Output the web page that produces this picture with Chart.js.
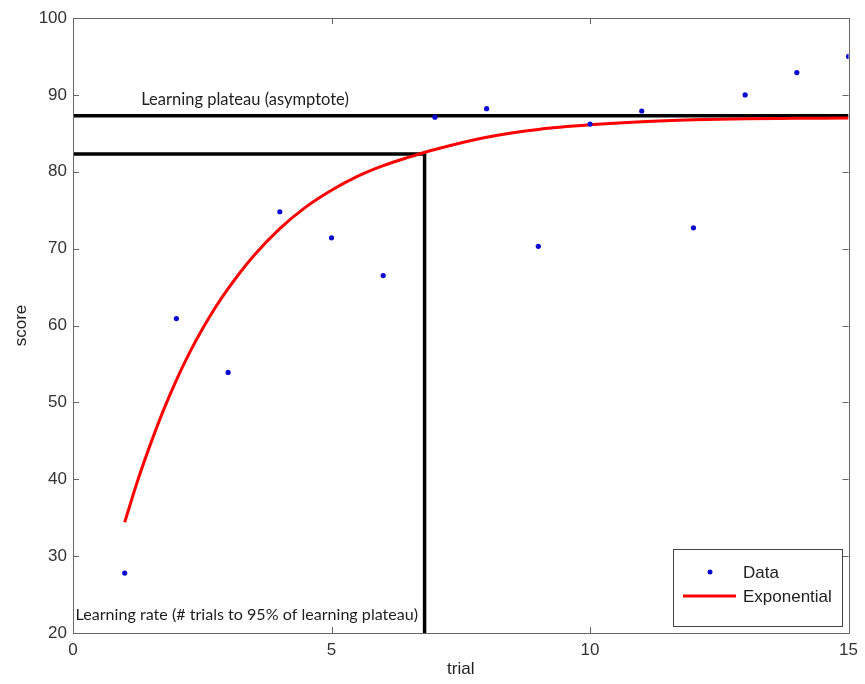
<!DOCTYPE html>
<html><head><meta charset="utf-8">
<script src="https://cdn.jsdelivr.net/npm/chart.js@4"></script>
<style>html,body{margin:0;padding:0;background:#fff}#wrap{width:865px;height:684px;position:relative}</style>
</head><body><div id="wrap"><canvas id="c" width="865" height="684"></canvas></div>
<script>
// ---- data ----
const trials = [1,2,3,4,5,6,7,8,9,10,11,12,13,14,15];
const scores = [27.8,60.9,53.9,74.8,71.4,66.5,87.1,88.2,70.3,86.2,87.9,72.7,90.0,92.9,95.0];
const curveTrials = [1,1.25,1.5,1.75,2,2.25,2.5,2.75,3,3.5,4,4.5,5,5.5,6,6.5,7,8,9,10,11,12,13,14,15];
const curveScores = [34.4,39.8,44.6,49.0,52.9,56.4,59.5,62.3,64.8,69.1,72.6,75.4,77.6,79.4,80.8,81.9,82.9,84.5,85.5,86.1,86.5,86.75,86.9,86.95,87.0];
const plateauScore = 87.3;
const rateScore = 82.3;
const rateTrial = 6.8;
const xTickValues = [0,5,10,15];
const yTickValues = [20,30,40,50,60,70,80,90,100];
const seriesLabels = ['Data','Exponential'];
const plateauText = 'Learning plateau (asymptote)';
const rateText = 'Learning rate (# trials to 95% of learning plateau)';

const ARIAL = "'Liberation Sans', Arial, sans-serif";
const NOTE_FONT = "Lato, 'Open Sans', sans-serif";

const pts = (xs, ys) => xs.map((x,i)=>({x, y: ys[i]}));

const boxPlugin = {
  id:'matlabBox',
  afterDatasetsDraw(chart){
    const {ctx, chartArea:a, scales:{x, y}} = chart;
    ctx.save();
    // annotations text
    ctx.fillStyle = '#1e1e1e';
    ctx.textBaseline = 'middle';
    ctx.textAlign = 'left';
    ctx.font = "16.5px " + NOTE_FONT;
    ctx.fillText(plateauText, x.getPixelForValue(1.32), y.getPixelForValue(89.4));
    ctx.font = "16.1px " + NOTE_FONT;
    ctx.fillText(rateText, x.getPixelForValue(0.05), y.getPixelForValue(22.4));
    // box
    ctx.strokeStyle = '#666';
    ctx.lineWidth = 1;
    ctx.strokeRect(Math.round(a.left)+0.5, Math.round(a.top)+0.5, Math.round(a.right-a.left), Math.round(a.bottom-a.top));
    // inward ticks
    const tl = 6;
    ctx.beginPath();
    xTickValues.forEach(v=>{
      const px = Math.round(x.getPixelForValue(v))+0.5;
      ctx.moveTo(px, a.bottom); ctx.lineTo(px, a.bottom - tl);
      ctx.moveTo(px, a.top); ctx.lineTo(px, a.top + tl);
    });
    yTickValues.forEach(v=>{
      const py = Math.round(y.getPixelForValue(v))+0.5;
      ctx.moveTo(a.left, py); ctx.lineTo(a.left + tl, py);
      ctx.moveTo(a.right, py); ctx.lineTo(a.right - tl, py);
    });
    ctx.stroke();
    // legend
    const bw = 169, bh = 77;
    const bx = Math.round(a.right - 7 - bw), by = Math.round(a.bottom - 7 - bh);
    ctx.fillStyle = '#fff';
    ctx.fillRect(bx, by, bw, bh);
    ctx.strokeStyle = '#444';
    ctx.strokeRect(bx+0.5, by+0.5, bw, bh);
    ctx.fillStyle = '#0a0ad0';
    ctx.beginPath(); ctx.arc(bx+37, by+23, 2.5, 0, Math.PI*2); ctx.fill();
    ctx.strokeStyle = '#f00'; ctx.lineWidth = 3;
    ctx.beginPath(); ctx.moveTo(bx+10, by+47); ctx.lineTo(bx+63, by+47); ctx.stroke();
    ctx.fillStyle = '#222';
    ctx.font = "17px " + ARIAL;
    ctx.textBaseline = 'middle';
    ctx.fillText(seriesLabels[0], bx+70, by+24);
    ctx.fillText(seriesLabels[1], bx+70, by+48);
    ctx.restore();
  }
};

new Chart(document.getElementById('c'), {
  type: 'scatter',
  data: {
    datasets: [
      { label: seriesLabels[0], data: pts(trials, scores), showLine:false,
        pointRadius: 2.6, pointBackgroundColor:'#0a0ad0', pointBorderWidth:0, pointHoverRadius:2.6 },
      { label: seriesLabels[1], data: pts(curveTrials, curveScores), showLine:true,
        borderColor:'#f00', borderWidth:3, pointRadius:0, cubicInterpolationMode:'monotone', fill:false },
      { label: plateauText, data: [{x:xTickValues[0], y:plateauScore},{x:xTickValues[xTickValues.length-1], y:plateauScore}],
        showLine:true, borderColor:'#000', borderWidth:3.5, pointRadius:0 },
      { label: rateText, data: [{x:xTickValues[0], y:rateScore},{x:rateTrial, y:rateScore},{x:rateTrial, y:yTickValues[0]}],
        showLine:true, borderColor:'#000', borderWidth:3.5, pointRadius:0, tension:0 }
    ]
  },
  options: {
    responsive: false,
    animation: false,
    devicePixelRatio: 1,
    layout: { padding: { top: 18, right: 14, left: 0, bottom: 0 } },
    plugins: { legend: { display:false }, tooltip: { enabled:false } },
    scales: {
      x: {
        type:'linear', min:0, max:15,
        afterBuildTicks(s){ s.ticks = xTickValues.map(v=>({value:v})); },
        afterFit(s){ s.height = 51; },
        grid:{ display:false, drawTicks:false }, border:{ display:false },
        ticks:{ color:'#333', font:{ family:ARIAL, size:17 }, padding:7, maxRotation:0 },
        title:{ display:true, text:'trial', color:'#222', font:{ family:ARIAL, size:17 }, padding:{top:0,bottom:4} }
      },
      y: {
        type:'linear', min:20, max:100,
        afterBuildTicks(s){ s.ticks = yTickValues.map(v=>({value:v})); },
        afterFit(s){ s.width = 73; },
        grid:{ display:false, drawTicks:false }, border:{ display:false },
        ticks:{ color:'#333', font:{ family:ARIAL, size:17 }, padding:6 },
        title:{ display:true, text:'score', color:'#222', font:{ family:ARIAL, size:17 }, padding:{top:11,bottom:0} }
      }
    }
  },
  plugins: [boxPlugin]
});
</script>
</body></html>
